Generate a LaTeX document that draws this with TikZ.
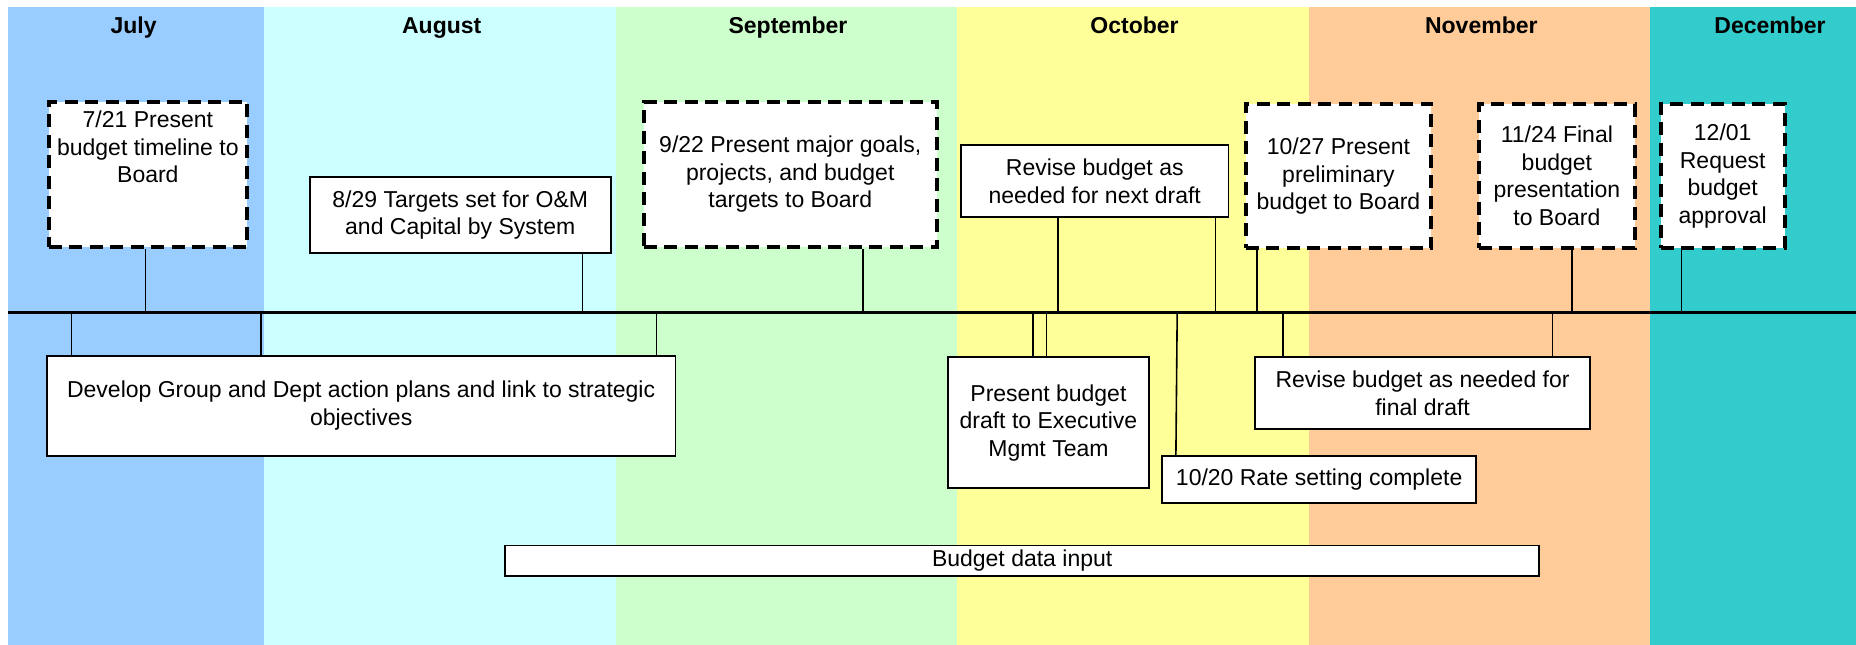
\documentclass[tikz,border=0pt]{standalone}
\usepackage{fontspec}
\setmainfont{Liberation Sans}
\definecolor{bandjul}{HTML}{99CCFF}
\definecolor{bandaug}{HTML}{CCFFFF}
\definecolor{bandsep}{HTML}{CCFFCC}
\definecolor{bandoct}{HTML}{FFFF99}
\definecolor{bandnov}{HTML}{FFCC99}
\definecolor{banddec}{HTML}{33CCCC}
\tikzset{
  txt/.style={font=\fontsize{23}{27.5}\selectfont, align=center, inner sep=0pt},
  month/.style={font=\fontsize{23}{27.5}\selectfont\bfseries, inner sep=0pt, anchor=base},
  sbox/.style={txt, draw=black, line width=1.8pt, fill=white, rectangle},
  dbox/.style={txt, draw=black, line width=4pt, dash pattern=on 13pt off 7.5pt, fill=white, rectangle},
  timeline/.style={draw=black, line width=3.5pt},
  conn/.style={draw=black, line width=1.6pt},
}
\begin{document}
\begin{tikzpicture}[x=1pt,y=-1pt]
\useasboundingbox (0,0) rectangle (1856,645);

% month bands
\fill[bandjul] (7.9,7.3) rectangle (263.5,645);
\fill[bandaug] (263.5,7.3) rectangle (616,645);
\fill[bandsep] (616,7.3) rectangle (956.7,645);
\fill[bandoct] (956.7,7.3) rectangle (1309,645);
\fill[bandnov] (1309,7.3) rectangle (1650,645);
\fill[banddec] (1650,7.3) rectangle (1856,645);

% month headings, sharing one baseline
\node[month] (mjul) at (133.6,33) {July};
\node[month] (maug) at (441.7,33) {August};
\node[month] (msep) at (788,33) {September};
\node[month] (moct) at (1134.5,33) {October};
\node[month] (mnov) at (1481.3,33) {November};
\node[month] (mdec) at (1770,33) {December};

% points on the time axis
\coordinate (tlL) at (7.9,312.5);
\coordinate (tlR) at (1856,312.5);
\coordinate (ta)  at (145.5,312.5);
\coordinate (tb)  at (582.4,312.5);
\coordinate (tc)  at (863,312.5);
\coordinate (td1) at (1057.9,312.5);
\coordinate (td2) at (1215.3,312.5);
\coordinate (te)  at (1256.9,312.5);
\coordinate (tf)  at (1572,312.5);
\coordinate (tg)  at (1681.3,312.5);
\coordinate (th1) at (71.5,312.5);
\coordinate (th2) at (261,312.5);
\coordinate (th3) at (656.3,312.5);
\coordinate (ti1) at (1033,312.5);
\coordinate (ti2) at (1046.3,312.5);
\coordinate (tj)  at (1177.2,312.5);
\coordinate (tk1) at (1283,312.5);
\coordinate (tk2) at (1552.3,312.5);

% milestones above the axis
\node[dbox, minimum width=198.5pt, minimum height=144.4pt] (a) at (147.85,174.5)
  {7/21 Present\\budget timeline to\\Board\\\mbox{}\\\mbox{}};
\node[sbox, minimum width=301.3pt, minimum height=76pt] (b) at (460.25,215.3)
  {8/29 Targets set for O\&M\\and Capital by System};
\node[dbox, minimum width=292.9pt, minimum height=144.4pt] (c) at (790.25,174.5)
  {9/22 Present major goals,\\projects, and budget\\targets to Board};
\node[sbox, minimum width=267.3pt, minimum height=72.3pt] (d) at (1094.75,181.15)
  {Revise budget as\\needed for next draft};
\node[dbox, minimum width=185.9pt, minimum height=144.3pt] (e) at (1338.45,176.15)
  {10/27 Present\\preliminary\\budget to Board};
\node[dbox, minimum width=156pt, minimum height=144pt] (f) at (1556.9,176)
  {11/24 Final\\budget\\presentation\\to Board};
\node[dbox, minimum width=123.8pt, minimum height=144pt] (g) at (1722.7,176)
  {12/01\\Request\\budget\\approval};

% activities below the axis
\node[sbox, minimum width=628.5pt, minimum height=100pt] (h) at (361.15,405.7)
  {Develop Group and Dept action plans and link to strategic\\objectives};
\node[sbox, minimum width=200.5pt, minimum height=131pt] (i) at (1048.45,422.8)
  {Present budget\\draft to Executive\\Mgmt Team};
\node[sbox, minimum width=314.3pt, minimum height=47.3pt] (j) at (1319.15,479.35)
  {10/20 Rate setting complete};
\node[sbox, minimum width=335.3pt, minimum height=72pt] (k) at (1422.55,393.3)
  {Revise budget as needed for\\final draft};
\node[sbox, minimum width=1034.3pt, minimum height=30.2pt] (l) at (1022.15,560.6)
  {Budget data input};

% connectors to the axis
\draw[conn] (ta) -- (a.south -| ta);
\draw[conn] (tb) -- (b.south -| tb);
\draw[conn] (tc) -- (c.south -| tc);
\draw[conn] (td1) -- (d.south -| td1);
\draw[conn] (td2) -- (d.south -| td2);
\draw[conn] (te) -- (e.south -| te);
\draw[conn] (tf) -- (f.south -| tf);
\draw[conn] (tg) -- (g.south -| tg);
\draw[conn] (th1) -- (h.north -| th1);
\draw[conn] (th2) -- (h.north -| th2);
\draw[conn] (th3) -- (h.north -| th3);
\draw[conn] (ti1) -- (i.north -| ti1);
\draw[conn] (ti2) -- (i.north -| ti2);
\draw[conn] (tj) -- ([xshift=-1.3pt]j.north -| tj);
\draw[conn] (tk1) -- (k.north -| tk1);
\draw[conn] (tk2) -- (k.north -| tk2);

% time axis
\draw[timeline] (tlL) -- (tlR);
\end{tikzpicture}
\end{document}
